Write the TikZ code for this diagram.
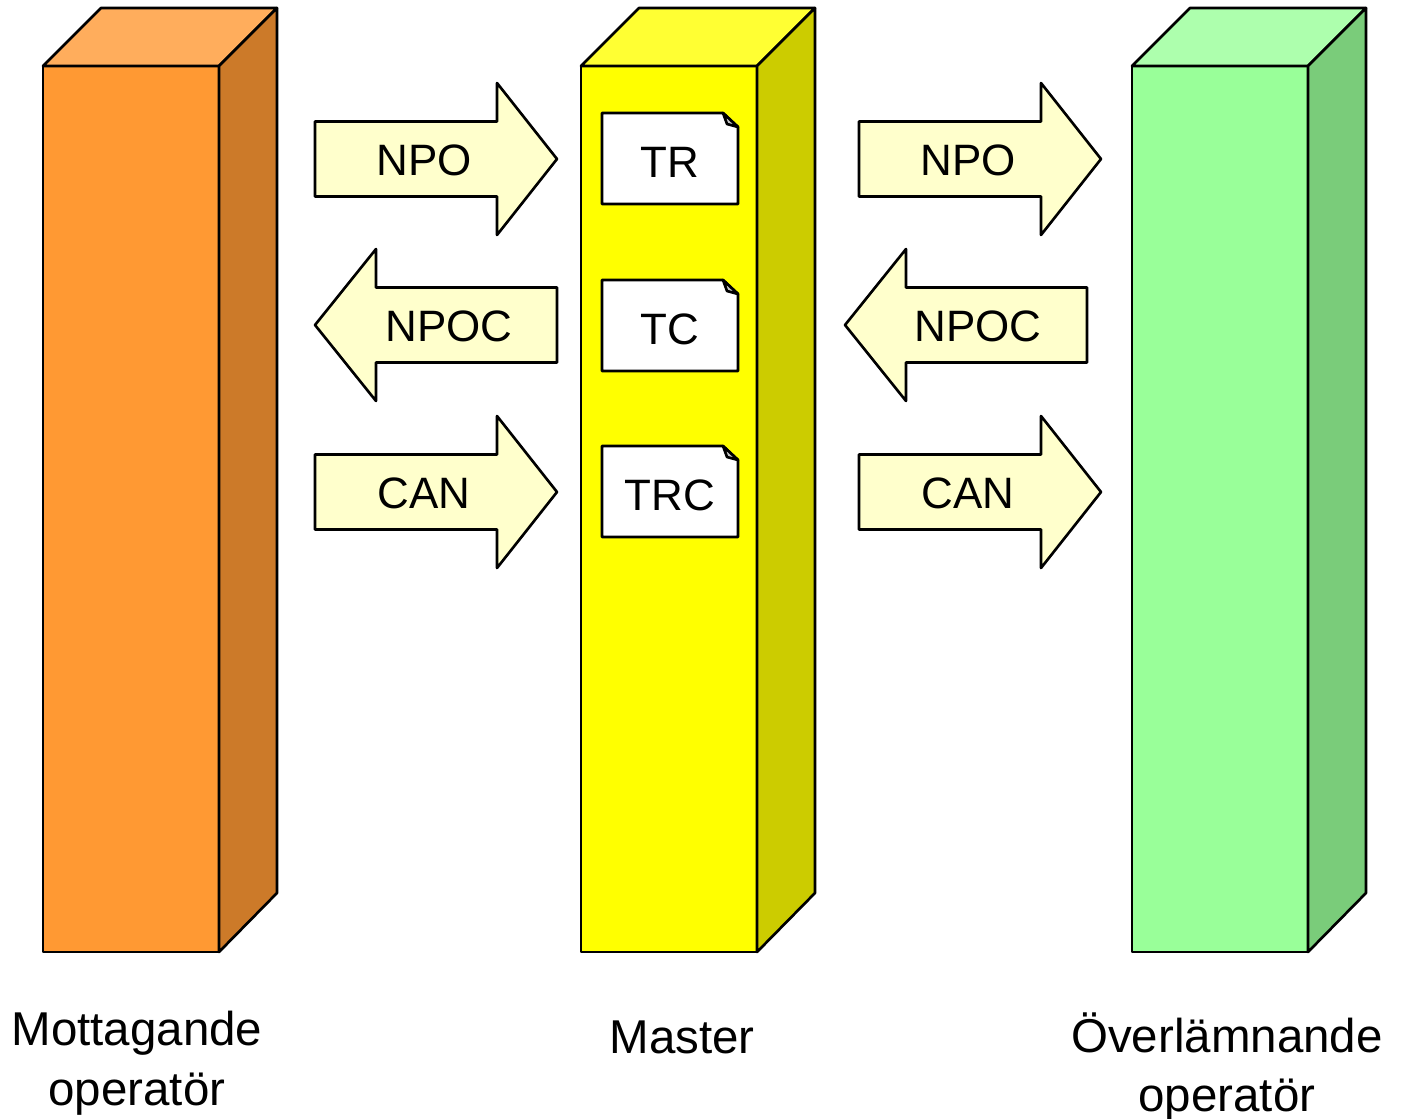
\documentclass[tikz,border=0pt]{standalone}
\usepackage{fontspec}
\setmainfont{Liberation Sans}
\definecolor{orangefront}{RGB}{255,153,51}
\definecolor{orangetop}{RGB}{255,173,92}
\definecolor{orangeside}{RGB}{204,122,41}
\definecolor{yellowfront}{RGB}{255,255,0}
\definecolor{yellowtop}{RGB}{255,255,51}
\definecolor{yellowside}{RGB}{204,204,0}
\definecolor{greenfront}{RGB}{153,255,153}
\definecolor{greentop}{RGB}{173,255,173}
\definecolor{greenside}{RGB}{122,204,122}
\definecolor{arrowfill}{RGB}{255,255,204}
\definecolor{foldgray}{RGB}{200,200,200}

% a box column: left edge, front, top, side colour
\newcommand{\pillar}[4]{%
  \draw[fill=#2] (#1,66) rectangle (#1+176,952);
  \draw[fill=#3] (#1,66) -- (#1+58,8) -- (#1+234,8) -- (#1+176,66) -- cycle;
  \draw[fill=#4] (#1+176,66) -- (#1+234,8) -- (#1+234,893) -- (#1+176,952) -- cycle;}
% block arrow to the right: left end, centre line
\newcommand{\rarrow}[2]{%
  \draw[flow] (#1,#2-37.5) -- (#1+182,#2-37.5) -- (#1+182,#2-76) -- (#1+242,#2)
    -- (#1+182,#2+76) -- (#1+182,#2+37.5) -- (#1,#2+37.5) -- cycle;}
% block arrow to the left: tip, centre line
\newcommand{\larrow}[2]{%
  \draw[flow] (#1,#2) -- (#1+61,#2-76) -- (#1+61,#2-37.5) -- (#1+242,#2-37.5)
    -- (#1+242,#2+37.5) -- (#1+61,#2+37.5) -- (#1+61,#2+76) -- cycle;}
% sheet with folded corner: top edge
\newcommand{\sheet}[1]{%
  \draw[doc] (602,#1) -- (723,#1) -- (738,#1+14) -- (738,#1+91) -- (602,#1+91) -- cycle;
  \draw[fill=foldgray] (723,#1) -- (738,#1+14) -- (727,#1+11) -- cycle;}

\begin{document}
\begin{tikzpicture}[x=0.01cm,y=-0.01cm,
                    line width=0.75pt,
                    line join=round,
                    flow/.style={draw=black,fill=arrowfill},
                    doc/.style={draw=black,fill=white},
                    lbl/.style={font=\fontsize{12.5}{15}\selectfont,inner sep=0pt},
                    caption/.style={font=\fontsize{13.5}{17}\selectfont,align=center,inner sep=0pt}]

  \useasboundingbox (0,0) rectangle (1406,1118);

  % columns
  \pillar{43}{orangefront}{orangetop}{orangeside}
  \pillar{581}{yellowfront}{yellowtop}{yellowside}
  \pillar{1132}{greenfront}{greentop}{greenside}

  % left arrows
  \rarrow{315}{159}
  \larrow{315}{325}
  \rarrow{315}{492}
  \node[lbl] (npo1)  at (424,160) {NPO};
  \node[lbl] (npoc1) at (449,326) {NPOC};
  \node[lbl] (can1)  at (424,493) {CAN};

  % right arrows
  \rarrow{859}{159}
  \larrow{845}{325}
  \rarrow{859}{492}
  \node[lbl] (npo2)  at (968,160) {NPO};
  \node[lbl] (npoc2) at (978,326) {NPOC};
  \node[lbl] (can2)  at (968,493) {CAN};

  % sheets in master
  \sheet{113}
  \sheet{280}
  \sheet{446}
  \node[lbl] (tr)  at (670,162) {TR};
  \node[lbl] (tc)  at (670,329) {TC};
  \node[lbl] (trc) at (670,495) {TRC};

  % captions
  \node[caption] (recv)   at (137,1063) {Mottagande\\operatör};
  \node[caption] (master) at (682,1037) {Master};
  \node[caption] (give)   at (1227,1067) {Överlämnande\\operatör};
\end{tikzpicture}
\end{document}
